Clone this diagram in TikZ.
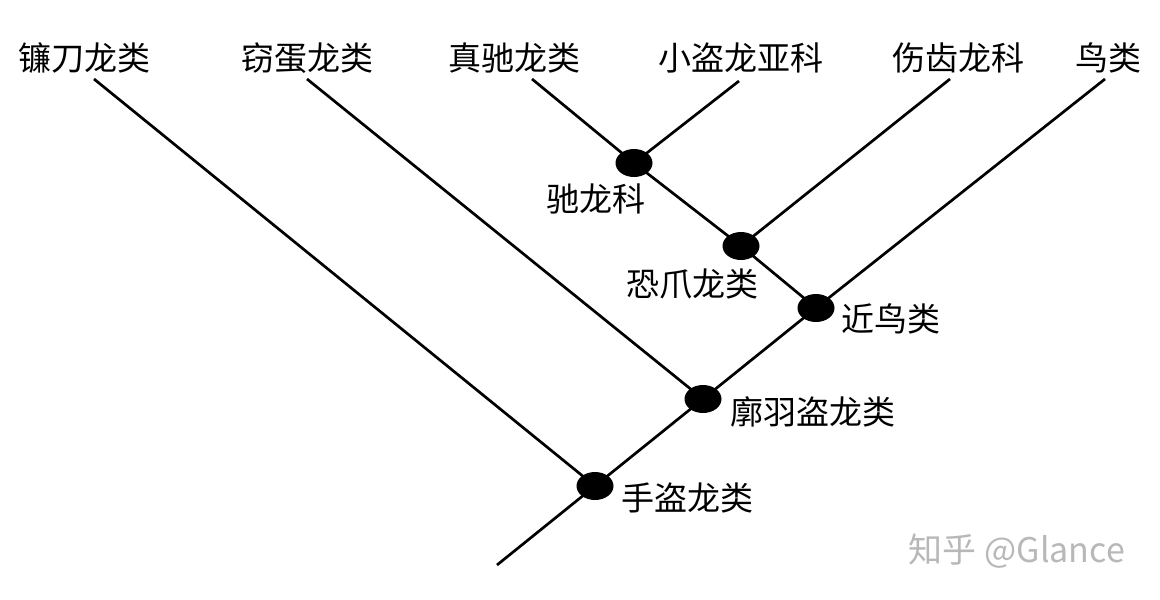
\documentclass[tikz,border=0pt]{standalone}
\usepackage{fontspec}
\usetikzlibrary{shapes.geometric}
\setmainfont{Noto Sans CJK SC}
\newfontfamily\cjk{Noto Sans CJK SC}
\begin{document}
\begin{tikzpicture}[x=1pt,y=-1pt,
  branch/.style={line width=2.7pt, black},
  dot/.style={ellipse, fill=black, minimum width=37pt, minimum height=28pt, inner sep=0pt},
  lbl/.style={font=\cjk\fontsize{33}{36}\selectfont, inner sep=0pt, text=black},
  wmark/.style={font=\cjk\fontsize{34}{38}\selectfont, inner sep=0pt, text=black!28}]
\useasboundingbox (0,0) rectangle (1160,600);
% leaf labels
\node[lbl] (t1) at (85,58) {镰刀龙类};
\node[lbl] (t2) at (307,58) {窃蛋龙类};
\node[lbl] (t3) at (514,58) {真驰龙类};
\node[lbl] (t4) at (741,58) {小盗龙亚科};
\node[lbl] (t5) at (958,58) {伤齿龙科};
\node[lbl] (t6) at (1108,58) {鸟类};
% line tops
\coordinate (e1) at (94,79);
\coordinate (e2) at (307,79);
\coordinate (e3) at (532,79);
\coordinate (e4) at (739,81);
\coordinate (e5) at (950,79);
\coordinate (e6) at (1105,79);
\coordinate (root) at (497,565);
% internal nodes
\coordinate (d1) at (634,163);
\coordinate (d2) at (741,246);
\coordinate (n3) at (816,308);
\coordinate (n2) at (703,399);
\coordinate (n1) at (595,486);
% branches
\draw[branch] (root) -- (n1) -- (n2) -- (n3) -- (e6);
\draw[branch] (e1) -- (n1);
\draw[branch] (e2) -- (n2);
\draw[branch] (e3) -- (d1) -- (d2) -- (n3);
\draw[branch] (e4) -- (d1);
\draw[branch] (e5) -- (d2);
% dots
\node[dot] (D1) at (d1) {};
\node[dot] (D2) at (d2) {};
\node[dot] (N3) at (n3) {};
\node[dot] (N2) at (n2) {};
\node[dot] (N1) at (n1) {};
% clade labels
\node[lbl] (l1) at (596,199) {驰龙科};
\node[lbl] (l2) at (692,284) {恐爪龙类};
\node[lbl] (l3) at (891,319) {近鸟类};
\node[lbl] (l4) at (813,412) {廓羽盗龙类};
\node[lbl] (l5) at (687,498) {手盗龙类};
% watermark
\node[wmark] (wm) at (1017,551) {知乎 @Glance};
\end{tikzpicture}
\end{document}
